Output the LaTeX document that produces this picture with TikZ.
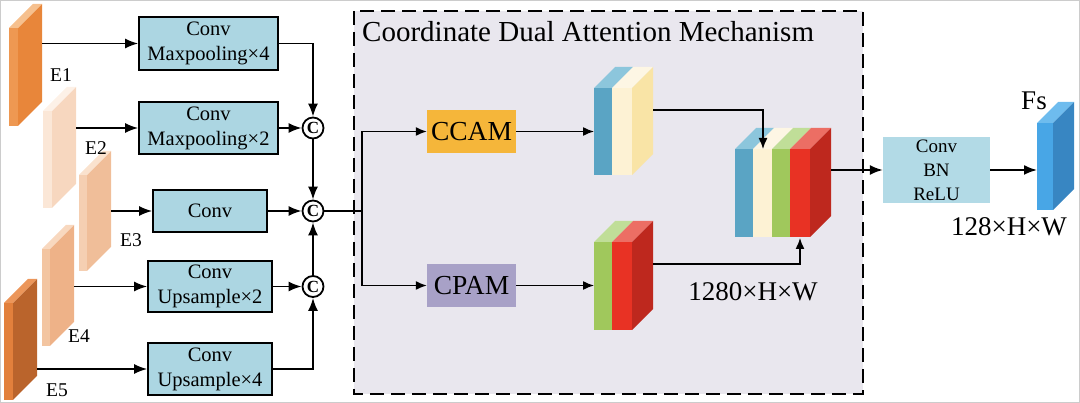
\documentclass[tikz,border=0pt]{standalone}
\usepackage{fontspec}
\setmainfont{Liberation Serif}
\usepackage{tikz}
\usetikzlibrary{positioning,arrows.meta,calc}
\definecolor{convfill}{RGB}{172,214,226}
\definecolor{headfill}{RGB}{178,218,230}
\definecolor{cdamfill}{RGB}{233,231,238}
\definecolor{ccamfill}{RGB}{245,182,58}
\definecolor{cpamfill}{RGB}{168,161,199}
\definecolor{cblue}{RGB}{90,164,196}
\definecolor{cbluetop}{RGB}{140,198,220}
\definecolor{ccream}{RGB}{253,242,212}
\definecolor{ccreamtop}{RGB}{253,246,228}
\definecolor{ccreamside}{RGB}{249,228,166}
\definecolor{cgreen}{RGB}{160,200,92}
\definecolor{cgreentop}{RGB}{192,222,152}
\definecolor{cred}{RGB}{232,50,36}
\definecolor{credtop}{RGB}{236,110,100}
\definecolor{credside}{RGB}{190,40,30}
\definecolor{fsfront}{RGB}{72,166,230}
\definecolor{fsside}{RGB}{56,134,194}
\definecolor{fstop}{RGB}{110,188,238}
\definecolor{eonefront}{RGB}{238,152,82}
\definecolor{eoneside}{RGB}{232,134,58}
\definecolor{eonetop}{RGB}{246,192,142}
\definecolor{etwofront}{RGB}{251,231,215}
\definecolor{etwoside}{RGB}{247,215,191}
\definecolor{etwotop}{RGB}{253,241,231}
\definecolor{ethreefront}{RGB}{245,207,178}
\definecolor{ethreeside}{RGB}{240,190,153}
\definecolor{ethreetop}{RGB}{250,226,206}
\definecolor{efourfront}{RGB}{243,197,161}
\definecolor{efourside}{RGB}{238,178,136}
\definecolor{efourtop}{RGB}{248,216,191}
\definecolor{efivefront}{RGB}{226,128,60}
\definecolor{efiveside}{RGB}{186,100,44}
\definecolor{efivetop}{RGB}{236,150,90}
\tikzset{
  conv/.style={draw=black, line width=1.6pt, fill=convfill, align=center, inner sep=0pt, font=\fontsize{20.5}{25}\selectfont},
  head/.style={fill=headfill, align=center, inner sep=0pt, minimum width=107pt, minimum height=66pt, font=\fontsize{19}{24}\selectfont},
  attn/.style={align=center, inner sep=0pt, minimum width=89pt, minimum height=43pt, font=\fontsize{27.5}{30}\selectfont},
  cat/.style={circle, draw=black, line width=1.8pt, fill=white, inner sep=0pt, minimum size=21pt, font=\fontsize{17}{17}\selectfont\bfseries},
  lab/.style={font=\fontsize{19.5}{20}\selectfont, inner sep=0pt},
  dims/.style={font=\fontsize{27}{28}\selectfont, inner sep=0pt},
  arr/.style={-{Latex[length=13pt,width=10pt]}, line width=1.8pt},
  arrthin/.style={-{Latex[length=11pt,width=9pt]}, line width=1.4pt},
}
% feature slab: x, top y, front width, height, front / side / top colour
\newcommand{\featslab}[7]{%
  \fill[#5] (#1,#2) rectangle ++(#3,#4);
  \fill[#6] (#1+#3,#2) -- ++(24,-24) -- ++(0,#4) -- ++(-24,24) -- cycle;
  \fill[#7] (#1,#2) -- ++(#3,0) -- ++(24,-24) -- ++(-#3,0) -- cycle;
}
% one coloured strip of a cube: x1, x2, top y, bottom y, front / top colour
\newcommand{\cubestrip}[6]{%
  \fill[#5] (#1,#3) rectangle (#2,#4);
  \fill[#6] (#1,#3) -- (#2,#3) -- (#2+21,#3-21) -- (#1+21,#3-21) -- cycle;
}
\newcommand{\cubeside}[4]{%
  \fill[#4] (#1,#2) -- (#1+21,#2-21) -- (#1+21,#3-21) -- (#1,#3) -- cycle;
}

\begin{document}
\begin{tikzpicture}[x=1pt, y=-1pt]
    \useasboundingbox (0,0) rectangle (1080,403);
    \draw[black!20, line width=1pt] (0.5,0.5) rectangle (1079.5,402.5);

    % attention block
    \draw[line width=1.8pt, dash pattern=on 14pt off 7pt, fill=cdamfill] (354,11) rectangle (863,394);
    \node[anchor=base west, inner sep=0pt, font=\fontsize{29}{30}\selectfont] (cdamtitle) at (362,42) {Coordinate Dual Attention Mechanism};

    % encoder features
    \featslab{9}{28}{9}{98}{eonefront}{eoneside}{eonetop}
    \featslab{43}{111}{9}{97}{etwofront}{etwoside}{etwotop}
    \featslab{79}{175}{8}{96}{ethreefront}{ethreeside}{ethreetop}
    \featslab{42}{249}{8}{97}{efourfront}{efourside}{efourtop}
    \featslab{4}{303}{9}{97}{efivefront}{efiveside}{efivetop}
    \node[lab, anchor=base] (l1) at (61,82) {E1};
    \node[lab, anchor=base] (l2) at (96,155) {E2};
    \node[lab, anchor=base] (l3) at (131,247) {E3};
    \node[lab, anchor=base] (l4) at (79,343) {E4};
    \node[lab, anchor=base] (l5) at (57,397) {E5};
    \coordinate (e1) at (42,43.5);
    \coordinate (e2) at (76,128);
    \coordinate (e3) at (111,211);
    \coordinate (e4) at (74,286.5);
    \coordinate (e5) at (37,369);

    \node[conv, minimum width=139pt, minimum height=53pt] (mp4) at (208.5,43.5) {Conv\\Maxpooling×4};
    \node[conv, minimum width=139pt, minimum height=52pt] (mp2) at (208.5,128) {Conv\\Maxpooling×2};
    \node[conv, minimum width=114pt, minimum height=42pt] (cv) at (210,211) {Conv};
    \node[conv, minimum width=124pt, minimum height=51pt] (up2) at (210,286.5) {Conv\\Upsample×2};
    \node[conv, minimum width=124pt, minimum height=52pt] (up4) at (210,369) {Conv\\Upsample×4};

    \node[cat] (c1) at (313,128) {C};
    \node[cat] (c2) at (313,211) {C};
    \node[cat] (c3) at (313,286.5) {C};

    \draw[arr] (e1) -- (mp4.west);
    \draw[arr] (e2) -- (mp2.west);
    \draw[arr] (e3) -- (cv.west);
    \draw[arr] (e4) -- (up2.west);
    \draw[arr] (e5) -- (up4.west);
    \draw[arr] (mp4.east) -| (c1.north);
    \draw[arr] (mp2.east) -- (c1.west);
    \draw[arr] (c1) -- (c2);
    \draw[arr] (cv.east) -- (c2.west);
    \draw[arr] (c3) -- (c2);
    \draw[arr] (up2.east) -- (c3.west);
    \draw[arr] (up4.east) -| (c3.south);

    % two attention branches
    \node[attn, fill=ccamfill] (ccam) at (471.5,131.5) {CCAM};
    \node[attn, fill=cpamfill] (cpam) at (471.5,285.5) {CPAM};
    \coordinate (split) at (362,211);
    \draw[line width=1.6pt] (c2.east) -- (split);
    \draw[arrthin] (split) |- (ccam.west);
    \draw[arrthin] (split) |- (cpam.west);

    \cubestrip{594}{612}{88}{175}{cblue}{cbluetop}
    \cubestrip{612}{632}{88}{175}{ccream}{ccreamtop}
    \cubeside{632}{88}{175}{ccreamside}
    \cubestrip{594}{612}{242}{330}{cgreen}{cgreentop}
    \cubestrip{612}{632}{242}{330}{cred}{credtop}
    \cubeside{632}{242}{330}{credside}
    \coordinate (k1in) at (594,131.5);
    \coordinate (k2in) at (594,285.5);
    \coordinate (k1out) at (653,110);
    \coordinate (k2out) at (653,264);
    \draw[arrthin] (ccam.east) -- (k1in);
    \draw[arrthin] (cpam.east) -- (k2in);

    % concatenated features
    \cubestrip{735}{753}{149}{237}{cblue}{cbluetop}
    \cubestrip{753}{772}{149}{237}{ccream}{ccreamtop}
    \cubestrip{772}{790}{149}{237}{cgreen}{cgreentop}
    \cubestrip{790}{810}{149}{237}{cred}{credtop}
    \cubeside{810}{149}{237}{credside}
    \coordinate (catin1) at (763,149);
    \coordinate (catin2) at (800,238);
    \coordinate (catout) at (831,170);
    \draw[arrthin] (k1out) -| (catin1);
    \draw[arrthin] (k2out) -| (catin2);
    \node[dims, anchor=base] (catdim) at (753,301) {1280×H×W};

    % output head
    \node[head] (cbr) at (936.5,170) {Conv\\BN\\ReLU};
    \draw[arr] (catout) -- (cbr.west);
    \cubestrip{1037}{1053}{123}{210}{fsfront}{fstop}
    \cubeside{1053}{123}{210}{fsside}
    \coordinate (fsin) at (1037,170);
    \draw[arr] (cbr.east) -- (fsin);
    \node[dims, anchor=base] (fslab) at (1034,110) {Fs};
    \node[dims, anchor=base] (fsdim) at (1009,236) {128×H×W};
  \end{tikzpicture}
\end{document}
